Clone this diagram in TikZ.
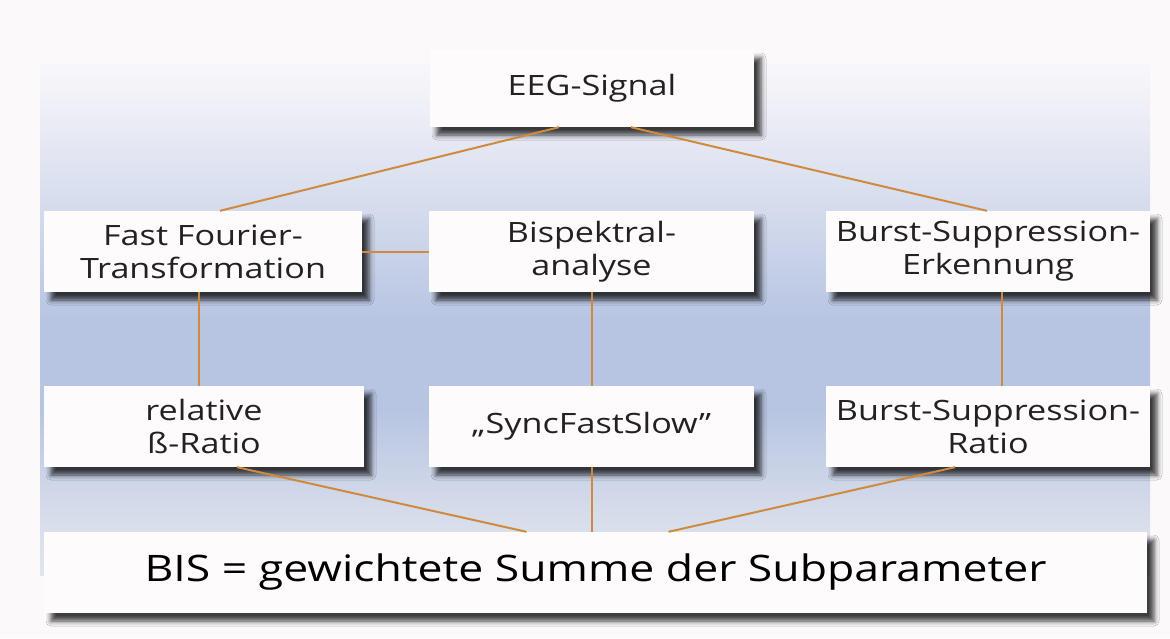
\documentclass[tikz,border=0pt]{standalone}
\usepackage{fontspec}
\setmainfont{Open Sans}[FakeStretch=1.22]
\usetikzlibrary{shadows.blur}
\definecolor{pagebg}{HTML}{FCF9FB}
\definecolor{boxfill}{HTML}{FEFBFD}
\definecolor{linkc}{HTML}{CF8A3E}
\definecolor{txt}{HTML}{222222}
\definecolor{pcA}{HTML}{E2E5EE}
\definecolor{pcB}{HTML}{D6DCEA}
\definecolor{pcC}{HTML}{B8C5E2}
\definecolor{pcD}{HTML}{DDE2F0}
\definecolor{pcE}{HTML}{F9F7FB}
\pgfdeclareverticalshading{panelshade}{100bp}{color(0bp)=(pcA); color(25bp)=(pcA); color(31bp)=(pcB); color(41bp)=(pcC); color(50bp)=(pcC); color(64bp)=(pcD); color(75bp)=(pcE); color(100bp)=(pcE)}
\tikzset{
  box/.style={fill=boxfill, inner sep=0pt, align=center, text=txt,
    font=\fontsize{28}{33}\selectfont,
    blur shadow={shadow xshift=7pt, shadow yshift=-8pt, shadow blur radius=5pt, shadow opacity=75}},
  link/.style={draw=linkc, line width=2pt}
}
\begin{document}
\begin{tikzpicture}[x=1pt,y=-1pt]
\useasboundingbox[fill=pagebg] (0,0) rectangle (1170,638);
\shade[shading=panelshade] (40,63) rectangle (1150,575);

\node[box, minimum width=324pt, minimum height=77pt] (eeg) at (592,88.5) {EEG-Signal};
\node[box, minimum width=318pt, minimum height=81pt] (fft) at (203,251.5) {Fast Fourier-\\Transformation};
\node[box, minimum width=325pt, minimum height=81pt] (bisp) at (591.5,251.5) {Bispektral-\\analyse};
\node[box, minimum width=324pt, minimum height=81pt] (bse) at (988,251.5) {Burst-Suppression-\\Erkennung};
\node[box, minimum width=320pt, minimum height=81pt] (rel) at (204,426.5) {relative\\ß-Ratio};
\node[box, minimum width=325pt, minimum height=81pt] (sync) at (591.5,426.5) {„SyncFastSlow”};
\node[box, minimum width=324pt, minimum height=81pt] (bsr) at (988,426.5) {Burst-Suppression-\\Ratio};
\node[box, minimum width=1103pt, minimum height=81pt, text=black, font=\fontsize{36.5}{40}\selectfont] (bis) at (595.5,572.5) {BIS = gewichtete Summe der Subparameter};

\draw[link] ([xshift=-33pt]eeg.south) -- ([xshift=17pt]fft.north);
\draw[link] ([xshift=39pt]eeg.south) -- ([xshift=-1pt]bse.north);
\draw[link] (fft.east) -- (bisp.west);
\draw[link] ([xshift=-4pt]fft.south) -- ([xshift=-4pt]fft.south |- rel.north);
\draw[link] (bisp.south) -- (bisp.south |- sync.north);
\draw[link] ([xshift=14pt]bse.south) -- ([xshift=14pt]bse.south |- bsr.north);
\draw[link] ([xshift=33pt]rel.south) -- ([xshift=-69pt]bis.north);
\draw[link] (sync.south) -- (sync.south |- bis.north);
\draw[link] ([xshift=-33pt]bsr.south) -- ([xshift=73pt]bis.north);
\end{tikzpicture}
\end{document}
